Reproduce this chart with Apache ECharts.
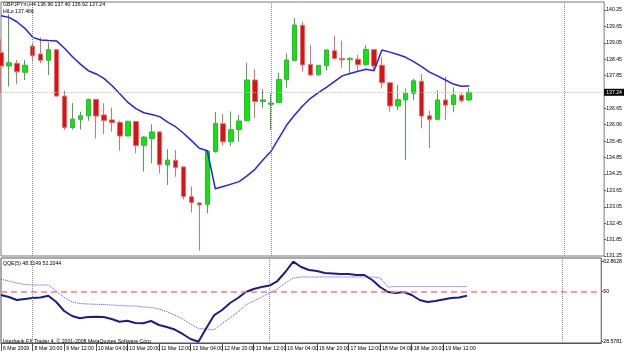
<!DOCTYPE html>
<html>
<head>
<meta charset="utf-8">
<script src="https://cdn.jsdelivr.net/npm/echarts@6/dist/echarts.min.js"></script>
<style>
  html, body { margin: 0; padding: 0; background: #fff; }
  #chart { width: 625px; height: 355px; }
</style>
</head>
<body>
<div id="chart"></div>
<script>
// time axis labels, one every 4 bars (H4)
var tickLabels = ['6 Mar 2009', '8 Mar 20:00', '9 Mar 12:00', '10 Mar 04:00', '10 Mar 20:00',
  '11 Mar 12:00', '12 Mar 04:00', '12 Mar 20:00', '13 Mar 12:00', '16 Mar 04:00',
  '16 Mar 20:00', '17 Mar 12:00', '18 Mar 04:00', '18 Mar 20:00', '19 Mar 12:00'];

// price scale labels
var priceTicks = [140.25, 139.65, 139.05, 138.45, 137.85, 136.65, 136.06, 135.45,
  134.85, 134.25, 133.65, 133.05, 132.45, 131.85, 131.25];
var qqeTicks = [62.8628, 50, 28.5781];

var opens = [138.69, 138.20, 138.30, 137.97, 138.93, 138.64, 138.41, 138.80, 137.10, 135.95,
  136.25, 136.38, 136.98, 136.41, 136.23, 136.14, 135.64, 136.17, 135.30, 135.55,
  135.79, 134.58, 134.75, 134.51, 133.42, 133.19, 133.14, 135.07, 136.09, 135.43,
  135.88, 136.20, 137.69, 136.90, 136.80, 136.86, 137.71, 138.40, 139.69, 138.26,
  137.88, 138.21, 138.76, 138.48, 138.43, 138.45, 138.25, 138.80, 138.23, 137.59,
  136.74, 136.96, 137.20, 137.64, 136.38, 136.25, 136.96, 136.79, 137.13, 136.96];
var closes = [138.20, 138.32, 137.99, 138.23, 138.58, 138.41, 138.80, 137.10, 135.95, 136.26,
  136.38, 136.98, 136.37, 136.21, 136.13, 135.64, 136.18, 135.29, 135.60, 135.79,
  134.59, 134.76, 134.49, 133.43, 133.21, 133.12, 135.09, 136.10, 135.43, 135.87,
  136.19, 137.69, 136.90, 136.96, 136.85, 137.71, 138.42, 139.70, 138.24, 137.87,
  138.23, 138.79, 138.48, 138.43, 138.48, 138.25, 138.81, 138.20, 137.59, 136.74,
  136.97, 137.20, 137.66, 136.37, 136.25, 136.96, 136.77, 137.14, 136.93, 137.24];
var lows = [137.20, 137.45, 137.53, 137.69, 138.36, 138.30, 137.87, 137.08, 135.86, 135.88,
  135.88, 136.20, 135.55, 135.71, 135.80, 135.10, 135.64, 135.01, 134.34, 134.64,
  134.27, 133.85, 134.15, 133.32, 132.84, 131.45, 132.81, 135.03, 135.29, 135.27,
  135.43, 136.18, 136.29, 136.65, 135.86, 136.84, 137.40, 138.40, 137.99, 137.84,
  137.84, 138.03, 138.45, 138.14, 137.91, 138.03, 138.20, 138.03, 137.38, 136.53,
  136.59, 134.76, 136.96, 135.92, 135.19, 136.23, 136.23, 136.51, 136.86, 136.92];
var highs = [139.18, 140.10, 138.42, 138.42, 139.03, 139.25, 139.06, 138.80, 137.30, 136.84,
  136.53, 137.01, 136.98, 136.84, 136.68, 136.20, 136.20, 136.17, 135.64, 136.07,
  135.81, 135.16, 135.12, 134.53, 133.79, 133.21, 135.13, 136.52, 136.45, 136.54,
  136.41, 138.32, 138.09, 137.35, 137.20, 137.96, 138.66, 139.95, 139.82, 138.97,
  138.23, 138.79, 139.30, 139.13, 138.52, 138.60, 138.97, 138.81, 138.52, 137.59,
  137.51, 137.38, 137.74, 137.91, 136.57, 137.32, 137.81, 137.42, 137.25, 137.40];

var hiLo = [140.04, 139.98, 139.82, 139.58, 139.25, 139.15, 139.13, 139.12, 138.85, 138.54,
  138.27, 138.03, 137.91, 137.74, 137.48, 137.18, 136.87, 136.64, 136.49, 136.43,
  136.35, 136.15, 135.98, 135.74, 135.47, 135.19, 135.10, 133.71, 133.79, 133.88,
  133.97, 134.18, 134.42, 134.76, 135.07, 135.55, 136.04, 136.41, 136.74, 137.02,
  137.23, 137.42, 137.63, 137.84, 137.93, 138.01, 138.08, 138.03, 138.79, 138.71,
  138.62, 138.52, 138.36, 138.18, 137.98, 137.84, 137.69, 137.54, 137.46, 137.466];

var qqeFast = [48.6, 47.74, 46.45, 46.88, 47.31, 47.52, 48.3, 45.6, 41.74, 39.6,
  38.6, 39.17, 39.3, 39.17, 38.31, 37.16, 37.58, 36.6, 36.47, 37.45,
  35.74, 34.89, 33.81, 31.89, 29.75, 28.5781, 34.5, 40.0, 42.17, 45.17,
  47.31, 49.88, 51.16, 52.02, 52.66, 54.59, 58.45, 62.8628, 60.59, 59.31,
  58.88, 58.02, 57.81, 57.59, 57.59, 57.17, 57.17, 55.02, 52.02, 49.88,
  49.45, 49.88, 48.6, 46.45, 45.6, 46.0, 46.66, 47.31, 47.52, 48.3149];
var qqeSlow = [55.32, 54.59, 53.74, 53.09, 52.88, 52.88, 52.88, 50.31, 47.52, 45.6,
  44.95, 44.74, 44.61, 44.53, 44.31, 44.1, 43.88, 43.88, 43.45, 43.32,
  42.6, 41.44, 40.03, 38.31, 36.17, 34.2, 34.0, 33.7, 36.4, 38.8,
  41.3, 44.31, 46.02, 47.74, 49.45, 51.16, 53.74, 55.88, 56.31, 56.31,
  56.31, 56.31, 56.31, 56.31, 56.31, 56.31, 56.31, 56.31, 55.88, 52.02,
  52.2, 52.2, 52.2, 52.2, 52.2, 52.2, 52.2, 52.2, 52.2, 52.2044];

// week separators (bar index)
var separators = [4, 34, 71];

var FONT = '"Liberation Sans", Arial, sans-serif';
var FS = 5.2;
var nSlots = 77;
var last = opens.length - 1;

var cats = [];
for (var i = 0; i < nSlots; i++) {
  cats.push(i % 4 === 0 && tickLabels[i / 4] ? tickLabels[i / 4] : 'bar' + i);
}
var candles = opens.map(function (o, i) { return [o, closes[i], lows[i], highs[i]]; });

function labelShown(index) {
  return index % 4 === 0 && index / 4 < tickLabels.length;
}

var sepLines = separators.map(function (k) { return { xAxis: cats[k] }; });
var small = { fontSize: FS, fontWeight: 'normal', color: '#000', fontFamily: FONT };

var chart = echarts.init(document.getElementById('chart'), null, { renderer: 'canvas' });

var option = {
  animation: false,
  backgroundColor: '#fff',
  textStyle: { fontFamily: FONT },
  title: [
    { text: 'GBPJPYm,H4 ' + [opens[last], highs[last], lows[last], closes[last]].map(function (v) { return v.toFixed(2); }).join(' '),
      left: 3, top: 2.5, padding: 0, textStyle: small },
    { text: 'HiLo ' + hiLo[last].toFixed(3), left: 3, top: 9.5, padding: 0, textStyle: small },
    { text: 'QQE(5) ' + qqeFast[last].toFixed(4) + ' ' + qqeSlow[last].toFixed(4), left: 3, top: 261, padding: 0, textStyle: small },
    { text: 'Interbank FX Trader 4, \u00a9 2001-2008 MetaQuotes Software Corp.', left: 3, top: 339, padding: 0, textStyle: small }
  ],
  grid: [
    { left: 1, right: 18, top: 2, height: 254, show: true, borderColor: '#7a7a7a', borderWidth: 1 },
    { left: 1, right: 18, top: 258, height: 85, show: true, borderColor: '#555', borderWidth: 1 }
  ],
  xAxis: [
    { type: 'category', gridIndex: 0, data: cats, boundaryGap: false,
      axisLine: { show: false }, axisTick: { show: false }, axisLabel: { show: false }, splitLine: { show: false } },
    { type: 'category', gridIndex: 1, data: cats, boundaryGap: false,
      axisLine: { show: true, lineStyle: { color: '#555' } },
      axisTick: { show: true, interval: labelShown, length: 8, lineStyle: { color: '#555' } },
      axisLabel: { interval: labelShown, align: 'left', margin: 3, padding: [0, 0, 0, 2],
        fontSize: FS, color: '#000',
        formatter: function (v) { return v.indexOf('bar') === 0 ? '' : v; } },
      splitLine: { show: false } }
  ],
  yAxis: [
    { type: 'value', gridIndex: 0, position: 'right', min: 131.25, max: 140.543, scale: true,
      axisLine: { show: false }, splitLine: { show: false },
      axisTick: { show: true, customValues: priceTicks, length: 2, lineStyle: { color: '#555' } },
      axisLabel: { customValues: priceTicks, margin: 2, fontSize: FS, color: '#000',
        formatter: function (v) { return v.toFixed(2); } } },
    { type: 'value', gridIndex: 1, position: 'right', min: 28.03, max: 64.45, scale: true,
      axisLine: { show: false }, splitLine: { show: false },
      axisTick: { show: true, customValues: qqeTicks, length: 2, lineStyle: { color: '#555' } },
      axisLabel: { customValues: qqeTicks, margin: 2, fontSize: FS, color: '#000',
        formatter: function (v) { return v === 50 ? '50' : v.toFixed(4); } } }
  ],
  series: [
    {
      type: 'candlestick', xAxisIndex: 0, yAxisIndex: 0, data: candles, barWidth: 5,
      itemStyle: { color: '#00ee00', color0: '#e01010', borderColor: '#4aa84a', borderColor0: '#e07070', borderWidth: 1 },
      markLine: {
        silent: true, symbol: ['none', 'none'], animation: false,
        lineStyle: { color: '#c4c4c4', type: 'dotted', width: 1 },
        label: { show: true, position: 'end', distance: 0, backgroundColor: '#000', color: '#fff',
          fontSize: FS, padding: [1, 2, 1, 2], formatter: function (p) { return p.value.toFixed(2); } },
        data: [{ yAxis: closes[last] }]
      }
    },
    {
      type: 'line', xAxisIndex: 0, yAxisIndex: 0, data: hiLo, symbol: 'none',
      lineStyle: { color: '#2424ee', width: 1.5 },
      markLine: {
        silent: true, symbol: ['none', 'none'], animation: false, label: { show: false },
        lineStyle: { color: '#8a8a8a', type: 'dotted', width: 1 },
        data: sepLines
      }
    },
    {
      type: 'line', xAxisIndex: 1, yAxisIndex: 1, data: qqeSlow, symbol: 'none',
      lineStyle: { color: '#4646dc', width: 1, type: 'dotted' }
    },
    {
      type: 'line', xAxisIndex: 1, yAxisIndex: 1, data: qqeFast, symbol: 'none',
      lineStyle: { color: '#1c1c8c', width: 2 },
      markLine: {
        silent: true, symbol: ['none', 'none'], animation: false, label: { show: false },
        data: [
          { yAxis: 50, lineStyle: { color: '#ff7a7a', type: [6, 4], width: 1.5 } }
        ].concat(sepLines.map(function (d) {
          return { xAxis: d.xAxis, lineStyle: { color: '#8a8a8a', type: 'dotted', width: 1 } };
        }))
      }
    }
  ]
};

chart.setOption(option);
</script>
</body>
</html>
